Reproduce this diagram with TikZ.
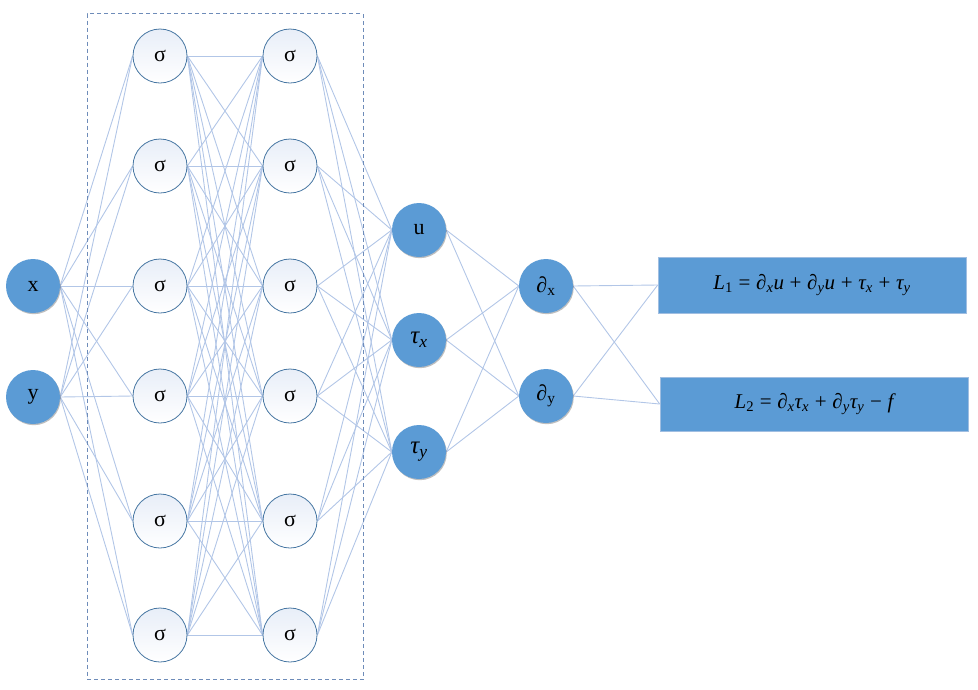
\documentclass[tikz,border=0pt]{standalone}
\usepackage{fontspec}
\setmainfont{Liberation Serif}
\usetikzlibrary{backgrounds,shadows}
\definecolor{nodeblue}{RGB}{91,155,213}
\definecolor{edgeblue}{RGB}{178,198,231}
\definecolor{ringblue}{RGB}{70,118,162}
\definecolor{dashblue}{RGB}{110,140,185}
\definecolor{boxline}{RGB}{160,190,225}
\definecolor{sigtop}{RGB}{232,238,248}
\newcommand{\sbi}[1]{\textsubscript{\itshape #1}}
\newcommand{\sbu}[1]{\textsubscript{#1}}
\newcommand{\iv}[1]{{\itshape #1}}
\newcommand{\op}[1]{\hspace{0.27em}#1\hspace{0.27em}}
\begin{document}
\begin{tikzpicture}[x=1pt,y=-1pt,
  bluenode/.style={circle,fill=nodeblue,minimum size=54pt,inner sep=0pt,
    font=\fontsize{22}{24}\selectfont,
    drop shadow={shadow xshift=0.8pt,shadow yshift=-1.2pt,fill=black,opacity=0.25}},
  signode/.style={circle,draw=ringblue,line width=0.8pt,top color=sigtop,bottom color=white,
    minimum size=54pt,inner sep=0pt,font=\fontsize{22}{24}\selectfont},
  lossbox/.style={rectangle,fill=nodeblue,draw=boxline,line width=0.6pt,inner sep=0pt,
    minimum width=308pt,font=\fontsize{21}{24}\selectfont,
    drop shadow={shadow xshift=0.8pt,shadow yshift=-1.2pt,fill=black,opacity=0.2}},
  edge/.style={draw=edgeblue,line width=0.9pt},
  dashframe/.style={draw=dashblue,line width=0.9pt,dash pattern=on 4pt off 3pt}
]
\useasboundingbox (0,0) rectangle (978,689);

\node[dashframe,minimum width=276pt,minimum height=666pt,inner sep=0pt] (frame) at (225,346.5) {};

\node[bluenode] (x) at (33,286) {x};
\node[bluenode] (y) at (33,397) {y};

\foreach \i/\yy in {1/56,2/166,3/286,4/396,5/521,6/635}{
  \node[signode] (a\i) at (160,\yy) {σ};
  \node[signode] (b\i) at (290,\yy) {σ};
}

\node[bluenode] (u) at (419,230) {u};
\node[bluenode,font=\fontsize{25}{27}\selectfont] (tx) at (419,340) {\iv{τ}\sbi{x}};
\node[bluenode,font=\fontsize{25}{27}\selectfont] (ty) at (419,452) {\iv{τ}\sbi{y}};

\node[bluenode] (dx) at (546,286) {∂\sbu{x}};
\node[bluenode] (dy) at (546,396) {∂\sbu{y}};

\node[lossbox,minimum height=56pt] (L1) at (812,285)
  {\iv{L}\sbu{1}\op{=}∂\sbi{x}\iv{u}\op{+}∂\sbi{y}\iv{u}\op{+}\iv{τ}\sbi{x}\op{+}\iv{τ}\sbi{y}};
\node[lossbox,minimum height=54pt] (L2) at (814,404)
  {\iv{L}\sbu{2}\op{=}∂\sbi{x}\iv{τ}\sbi{x}\op{+}∂\sbi{y}\iv{τ}\sbi{y}\op{−}\iv{f}\hspace{0.5em}};

\begin{scope}[on background layer]
  \foreach \s in {x,y}{
    \foreach \i in {1,...,6}{ \draw[edge] (\s.east) -- (a\i.west); }
  }
  \foreach \i in {1,...,6}{
    \foreach \j in {1,...,6}{ \draw[edge] (a\i.east) -- (b\j.west); }
  }
  \foreach \i in {1,...,6}{
    \foreach \t in {u,tx,ty}{ \draw[edge] (b\i.east) -- (\t.west); }
  }
  \foreach \t in {u,tx,ty}{
    \foreach \d in {dx,dy}{ \draw[edge] (\t.east) -- (\d.west); }
  }
  \foreach \d in {dx,dy}{
    \foreach \l in {L1,L2}{ \draw[edge] (\d.east) -- (\l.west); }
  }
\end{scope}
\end{tikzpicture}
\end{document}
